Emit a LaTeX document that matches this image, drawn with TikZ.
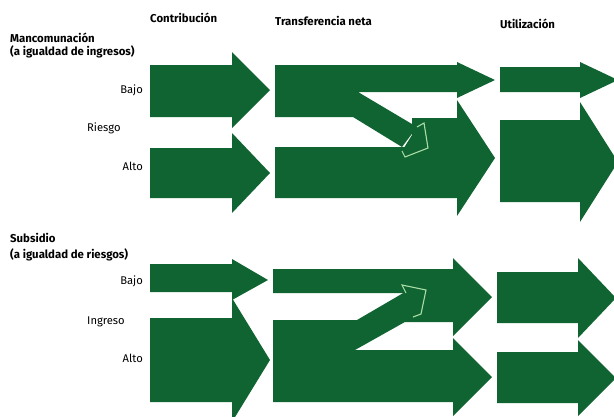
\documentclass[tikz,border=0pt]{standalone}
\usepackage{fontspec}
\setmainfont{Fira Sans}
\definecolor{flowgreen}{RGB}{15,100,50}
\definecolor{tipgreen}{RGB}{170,220,165}

\begin{document}
\begin{tikzpicture}[x=1pt,y=-1pt]
\tikzstyle{flow}=[fill=flowgreen,draw=none]
\tikzstyle{tipline}=[draw=tipgreen,line width=1.1pt,line join=miter]
\tikzstyle{head}=[font=\bfseries\fontsize{11.4}{13}\selectfont,inner sep=0pt,anchor=base west]
\tikzstyle{lab}=[font=\fontsize{11.2}{13}\selectfont,inner sep=0pt]
\useasboundingbox (0,0) rectangle (614,416);
\clip (0,0) rectangle (614,416);
% column titles
\node[head] (contrib) at (150,22) {Contribución};
\node[head] (transf) at (275,25) {Transferencia neta};
\node[head] (util) at (500,28) {Utilización};
% pooling, equal income
\node[head] (mancom) at (10,42) {Mancomunación};
\node[head] (mancomdet) at (10,55) {(a igualdad de ingresos)};
\node[lab,anchor=base east] (bajoA) at (143,93) {Bajo};
\node[lab,anchor=base west] (riesgo) at (87,131) {Riesgo};
\node[lab,anchor=base east] (altoA) at (143,170) {Alto};
\fill[flow] (150,65) -- (232,65) -- (232,52) -- (270,90) -- (232,128) -- (232,117) -- (150,117) -- cycle;
\fill[flow] (150,148) -- (232,148) -- (232,133) -- (270,173) -- (232,213) -- (232,198) -- (150,198) -- cycle;
\fill[flow] (275,65) -- (457,65) -- (457,62) -- (495,80) -- (457,98) -- (457,92) -- (358,92)
  -- (417,127) -- (402,147) -- (353,117) -- (275,117) -- cycle;
\fill[flow] (275,147) -- (412,147) -- (412,118) -- (457,118) -- (457,100) -- (495,158) -- (457,216)
  -- (457,198) -- (275,198) -- cycle;
\fill[flow] (417,127) -- (424,123) -- (428,148) -- (405,157) -- (402,151) -- cycle;
\draw[tipline] (417,127) -- (424,123) -- (428,148) -- (405,157) -- (402,151);
\fill[flow] (500,67) -- (580,67) -- (580,62) -- (618,80) -- (580,98) -- (580,92) -- (500,92) -- cycle;
\fill[flow] (500,120) -- (580,120) -- (580,102) -- (618,162) -- (580,222) -- (580,202) -- (500,202) -- cycle;
% subsidy, equal risk
\node[head] (subsid) at (10,242) {Subsidio};
\node[head] (subsiddet) at (10,258) {(a igualdad de riesgos)};
\node[lab,anchor=base east] (bajoB) at (143,284) {Bajo};
\node[lab,anchor=base west] (ingreso) at (87,324) {Ingreso};
\node[lab,anchor=base east] (altoB) at (143,362) {Alto};
\fill[flow] (150,264) -- (232,264) -- (232,259) -- (268,280) -- (232,300) -- (232,292) -- (150,292) -- cycle;
\fill[flow] (150,318) -- (232,318) -- (232,298) -- (270,360) -- (232,422) -- (232,402) -- (150,402) -- cycle;
\fill[flow] (273,269) -- (453,269) -- (453,258) -- (492,297) -- (453,336) -- (453,322) -- (405,322)
  -- (405,293) -- (273,293) -- cycle;
\fill[flow] (273,320) -- (357,320) -- (405,292) -- (412,318) -- (355,350) -- (453,350) -- (453,338)
  -- (492,377) -- (453,416) -- (453,402) -- (273,402) -- cycle;
\fill[flow] (406,293) -- (402,285) -- (426,290) -- (421,314) -- (413,317) -- cycle;
\draw[tipline] (406,293) -- (402,285) -- (426,290) -- (421,314) -- (413,317);
\fill[flow] (497,272) -- (578,272) -- (578,258) -- (616,298) -- (578,338) -- (578,323) -- (497,323) -- cycle;
\fill[flow] (497,352) -- (578,352) -- (578,340) -- (616,378) -- (578,416) -- (578,403) -- (497,403) -- cycle;
\end{tikzpicture}
\end{document}
